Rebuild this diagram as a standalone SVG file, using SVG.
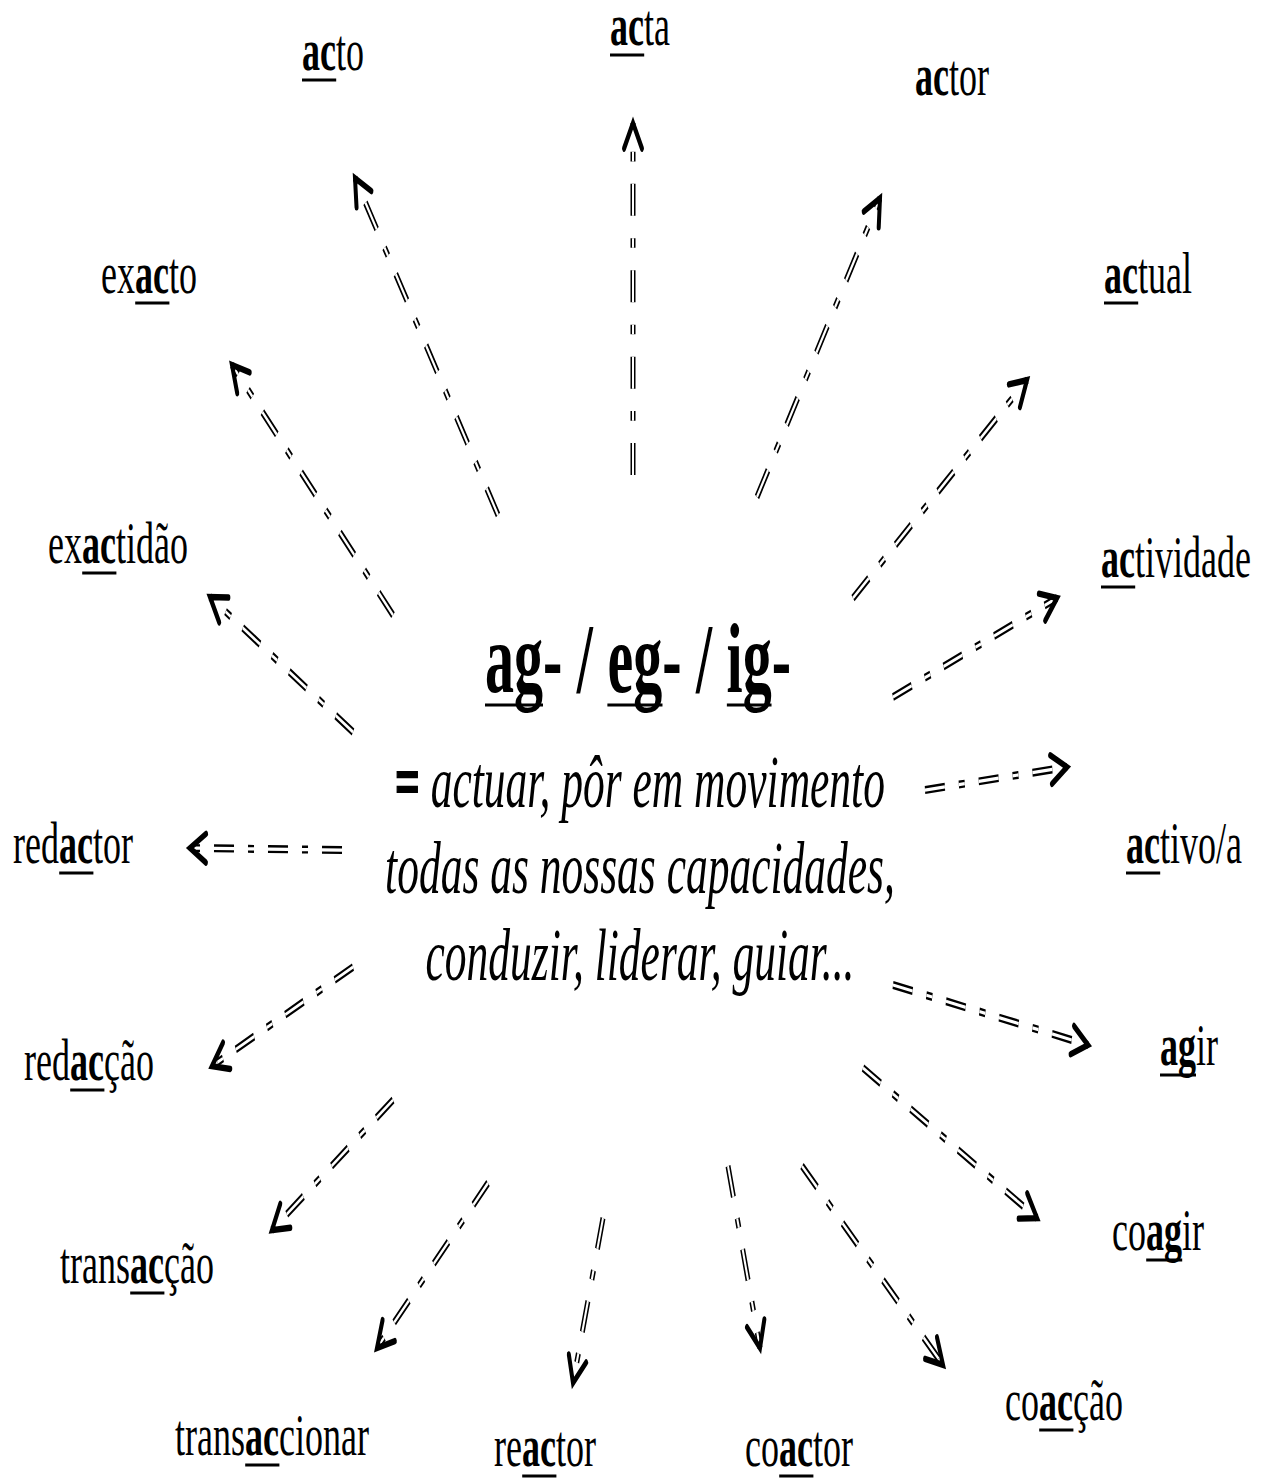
<svg xmlns="http://www.w3.org/2000/svg" width="1264" height="1479" viewBox="0 0 1264 1479">
<defs>
<style>
.lbl{font-family:"Liberation Serif","Times New Roman",serif;font-size:60px;fill:#000}
.ttl{font-family:"Liberation Serif","Times New Roman",serif;font-size:100px;font-weight:bold;fill:#000}
.def{font-family:"Liberation Serif","Times New Roman",serif;font-size:75px;font-style:italic;fill:#000}
.b{font-weight:bold}
.ul{stroke:#000;stroke-width:3}
.ln{fill:none;stroke:#000;stroke-width:5;stroke-dasharray:20 14 6 14}
.lw{fill:none;stroke:#fff;stroke-width:2;stroke-dasharray:20 14 6 14}
.hd{fill:none;stroke:none;marker-end:url(#chev)}
</style>
<marker id="chev" markerUnits="userSpaceOnUse" orient="auto" viewBox="-22 -14 26 28" refX="0" refY="0" markerWidth="26" markerHeight="28" overflow="visible">
<path d="M-16,-9 L0,0 L-16,9" fill="none" stroke="#000" stroke-width="4" stroke-linecap="round" stroke-linejoin="miter"/>
</marker>
</defs>
<rect width="1264" height="1479" fill="#fff"/>

<g id="connectors" transform="scale(1,1.6)">
<g id="e-acta"><path class="ln" d="M633,296.9 L633,76.9"/><path class="lw" d="M633,296.9 L633,76.9"/><path class="hd" d="M633,296.9 L633,76.9"/></g>
<g id="e-acto"><path class="ln" d="M498,321.9 L355,111.3"/><path class="lw" d="M498,321.9 L355,111.3"/><path class="hd" d="M498,321.9 L355,111.3"/></g>
<g id="e-actor"><path class="ln" d="M757,310.6 L880,123.8"/><path class="lw" d="M757,310.6 L880,123.8"/><path class="hd" d="M757,310.6 L880,123.8"/></g>
<g id="e-actual"><path class="ln" d="M853,373.8 L1027,237.5"/><path class="lw" d="M853,373.8 L1027,237.5"/><path class="hd" d="M853,373.8 L1027,237.5"/></g>
<g id="e-exacto"><path class="ln" d="M393,384.4 L232,228.1"/><path class="lw" d="M393,384.4 L232,228.1"/><path class="hd" d="M393,384.4 L232,228.1"/></g>
<g id="e-actividade"><path class="ln" d="M893,435.6 L1057,373.8"/><path class="lw" d="M893,435.6 L1057,373.8"/><path class="hd" d="M893,435.6 L1057,373.8"/></g>
<g id="e-exactidao"><path class="ln" d="M353,457.5 L210,373.1"/><path class="lw" d="M353,457.5 L210,373.1"/><path class="hd" d="M353,457.5 L210,373.1"/></g>
<g id="e-redactor"><path class="ln" d="M342,531.3 L190,530"/><path class="lw" d="M342,531.3 L190,530"/><path class="hd" d="M342,531.3 L190,530"/></g>
<g id="e-activo"><path class="ln" d="M925,493.8 L1067,479.4"/><path class="lw" d="M925,493.8 L1067,479.4"/><path class="hd" d="M925,493.8 L1067,479.4"/></g>
<g id="e-redaccao"><path class="ln" d="M353,604.4 L212,666.3"/><path class="lw" d="M353,604.4 L212,666.3"/><path class="hd" d="M353,604.4 L212,666.3"/></g>
<g id="e-agir"><path class="ln" d="M893,615.6 L1088,653.1"/><path class="lw" d="M893,615.6 L1088,653.1"/><path class="hd" d="M893,615.6 L1088,653.1"/></g>
<g id="e-transaccao"><path class="ln" d="M393,687.5 L272,768.8"/><path class="lw" d="M393,687.5 L272,768.8"/><path class="hd" d="M393,687.5 L272,768.8"/></g>
<g id="e-coagir"><path class="ln" d="M863,667.5 L1037,761.3"/><path class="lw" d="M863,667.5 L1037,761.3"/><path class="hd" d="M863,667.5 L1037,761.3"/></g>
<g id="e-transaccionar"><path class="ln" d="M488,739.4 L377,842.5"/><path class="lw" d="M488,739.4 L377,842.5"/><path class="hd" d="M488,739.4 L377,842.5"/></g>
<g id="e-reactor"><path class="ln" d="M603,761.3 L573,864.4"/><path class="lw" d="M603,761.3 L573,864.4"/><path class="hd" d="M603,761.3 L573,864.4"/></g>
<g id="e-coactor"><path class="ln" d="M728,728.8 L760,842.5"/><path class="lw" d="M728,728.8 L760,842.5"/><path class="hd" d="M728,728.8 L760,842.5"/></g>
<g id="e-coaccao"><path class="ln" d="M802,728.8 L943,853.1"/><path class="lw" d="M802,728.8 L943,853.1"/><path class="hd" d="M802,728.8 L943,853.1"/></g>
</g>

<g id="center">
<g transform="translate(485,692) scale(0.58,1)">
<text class="ttl">ag- / eg- / ig-</text>
<line class="ul" x1="0" y1="13" x2="100" y2="13"/>
<line class="ul" x1="211" y1="13" x2="306" y2="13"/>
<line class="ul" x1="417" y1="13" x2="494" y2="13"/>
</g>
<text class="def" text-anchor="middle" transform="translate(640,807) scale(0.58,1)"><tspan font-style="normal" font-weight="bold" stroke="#000" stroke-width="2">=</tspan> actuar, pôr em movimento</text>
<text class="def" text-anchor="middle" transform="translate(640,893) scale(0.58,1)">todas as nossas capacidades,</text>
<text class="def" text-anchor="middle" transform="translate(640,980) scale(0.58,1)">conduzir, liderar, guiar...</text>
</g>

<g id="n-acta" transform="translate(610,45) scale(0.6,1)"><text class="lbl"><tspan class="b">ac</tspan>ta</text><line class="ul" x1="0" y1="10" x2="57" y2="10"/></g>
<g id="n-acto" transform="translate(302,70) scale(0.6,1)"><text class="lbl"><tspan class="b">ac</tspan>to</text><line class="ul" x1="0" y1="10" x2="57" y2="10"/></g>
<g id="n-actor" transform="translate(915,95) scale(0.6,1)"><text class="lbl"><tspan class="b">ac</tspan>tor</text></g>
<g id="n-actual" transform="translate(1104,293) scale(0.6,1)"><text class="lbl"><tspan class="b">ac</tspan>tual</text><line class="ul" x1="0" y1="10" x2="57" y2="10"/></g>
<g id="n-exacto" transform="translate(101,293) scale(0.6,1)"><text class="lbl">ex<tspan class="b">ac</tspan>to</text><line class="ul" x1="57" y1="10" x2="114" y2="10"/></g>
<g id="n-exactidao" transform="translate(48,563) scale(0.6,1)"><text class="lbl">ex<tspan class="b">ac</tspan>tidão</text><line class="ul" x1="57" y1="10" x2="114" y2="10"/></g>
<g id="n-actividade" transform="translate(1101,577) scale(0.6,1)"><text class="lbl"><tspan class="b">ac</tspan>tividade</text><line class="ul" x1="0" y1="10" x2="57" y2="10"/></g>
<g id="n-redactor" transform="translate(13,863) scale(0.6,1)"><text class="lbl">red<tspan class="b">ac</tspan>tor</text><line class="ul" x1="77" y1="10" x2="134" y2="10"/></g>
<g id="n-activo" transform="translate(1126,863) scale(0.6,1)"><text class="lbl"><tspan class="b">ac</tspan>tivo/a</text><line class="ul" x1="0" y1="10" x2="57" y2="10"/></g>
<g id="n-redaccao" transform="translate(24,1080) scale(0.6,1)"><text class="lbl">red<tspan class="b">ac</tspan>ção</text><line class="ul" x1="77" y1="10" x2="134" y2="10"/></g>
<g id="n-agir" transform="translate(1160,1065) scale(0.6,1)"><text class="lbl"><tspan class="b">ag</tspan>ir</text><line class="ul" x1="0" y1="10" x2="60" y2="10"/></g>
<g id="n-transaccao" transform="translate(60,1283) scale(0.6,1)"><text class="lbl">trans<tspan class="b">ac</tspan>ção</text><line class="ul" x1="117" y1="10" x2="174" y2="10"/></g>
<g id="n-coagir" transform="translate(1112,1250) scale(0.6,1)"><text class="lbl">co<tspan class="b">ag</tspan>ir</text><line class="ul" x1="57" y1="10" x2="117" y2="10"/></g>
<g id="n-coaccao" transform="translate(1005,1420) scale(0.6,1)"><text class="lbl">co<tspan class="b">ac</tspan>ção</text><line class="ul" x1="57" y1="10" x2="114" y2="10"/></g>
<g id="n-transaccionar" transform="translate(175,1455) scale(0.6,1)"><text class="lbl">trans<tspan class="b">ac</tspan>cionar</text><line class="ul" x1="117" y1="10" x2="174" y2="10"/></g>
<g id="n-reactor" transform="translate(494,1466) scale(0.6,1)"><text class="lbl">re<tspan class="b">ac</tspan>tor</text><line class="ul" x1="47" y1="10" x2="104" y2="10"/></g>
<g id="n-coactor" transform="translate(745,1466) scale(0.6,1)"><text class="lbl">co<tspan class="b">ac</tspan>tor</text><line class="ul" x1="57" y1="10" x2="114" y2="10"/></g>
</svg>
